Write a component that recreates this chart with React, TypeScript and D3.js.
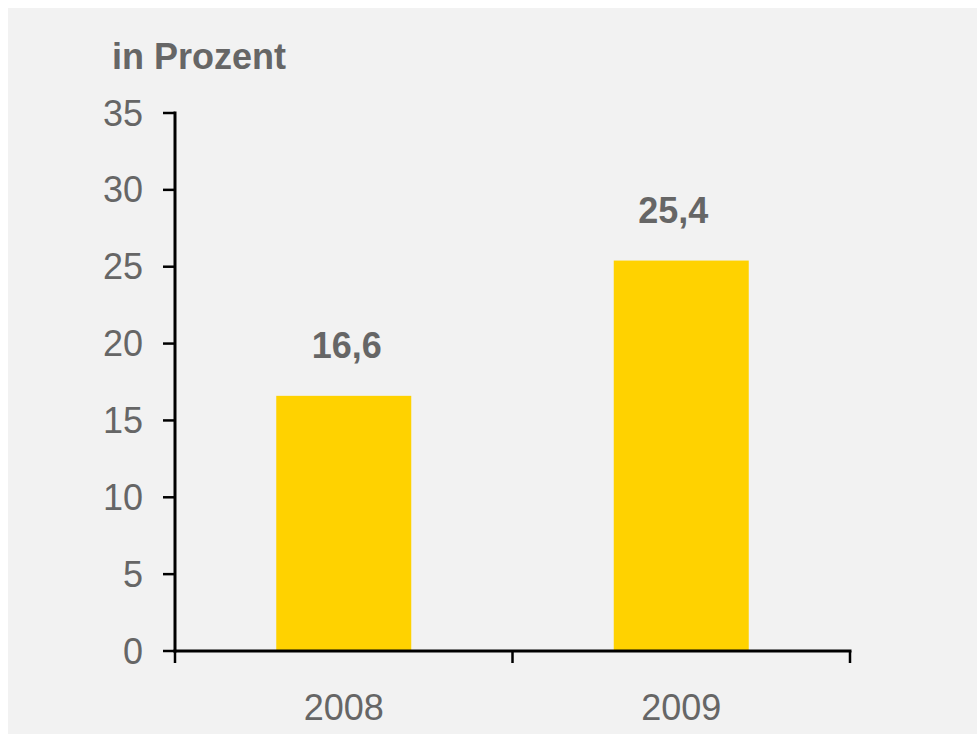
import React from 'react';
import * as d3 from 'd3';

// values
const years = ['2008', '2009'];
const shares = [16.6, 25.4];
const yTicks = [0, 5, 10, 15, 20, 25, 30, 35];
const unitLabel = 'in Prozent';

const W = 977;
const H = 734;
const left = 175;
const right = 850;
const top = 113;
const bottom = 651;

const textColor = '#666666';
const barColor = '#FFD200';
const font = 'Arial, "Liberation Sans", Helvetica, sans-serif';

// value labels in the original are not exactly centred on the bars
const labelNudge = [3, -8];

const fmt = (v: number) => v.toFixed(1).replace('.', ',');

export default function App() {
  const x = d3.scaleBand<string>()
    .domain(years)
    .range([left, right])
    .paddingInner(0.6)
    .paddingOuter(0.3);

  const y = d3.scaleLinear().domain([0, 35]).range([bottom, top]);

  // category boundaries for the x ticks
  const step = x.step();
  const xTickPos = d3.range(years.length + 1).map(i => left + i * step);

  return (
    <svg
      width={W}
      height={H}
      style={{ position: 'absolute', left: 0, top: 0, display: 'block' }}
      fontFamily={font}
    >
      <rect x={0} y={0} width={W} height={H} fill="#ffffff" />
      <rect x={8} y={8} width={W - 8} height={H - 8} fill="#f2f2f2" />

      <text x={112} y={69} fontSize={36} fontWeight="bold" fill={textColor}>
        {unitLabel}
      </text>

      {/* bars */}
      {years.map((yr, i) => (
        <g key={yr}>
          <rect
            x={x(yr)}
            y={y(shares[i])}
            width={x.bandwidth()}
            height={y(0) - y(shares[i])}
            fill={barColor}
          />
          <text
            x={(x(yr) as number) + x.bandwidth() / 2 + labelNudge[i]}
            y={y(shares[i]) - 38}
            textAnchor="middle"
            fontSize={36}
            fontWeight="bold"
            fill={textColor}
          >
            {fmt(shares[i])}
          </text>
          <text
            x={(x(yr) as number) + x.bandwidth() / 2}
            y={720}
            textAnchor="middle"
            fontSize={36}
            fill={textColor}
          >
            {yr}
          </text>
        </g>
      ))}

      {/* y axis */}
      <line x1={left} x2={left} y1={y(35) - 1.5} y2={y(0) + 1.5} stroke="#000" strokeWidth={3} />
      {yTicks.map(t => (
        <g key={t}>
          <line x1={left - 12} x2={left} y1={y(t)} y2={y(t)} stroke="#000" strokeWidth={2.5} />
          <text x={143} y={y(t) + 12.5} textAnchor="end" fontSize={36} fill={textColor}>
            {t}
          </text>
        </g>
      ))}

      {/* x axis */}
      <line x1={left - 1.5} x2={right + 1.5} y1={bottom} y2={bottom} stroke="#000" strokeWidth={3} />
      {xTickPos.map((p, i) => (
        <line key={i} x1={p} x2={p} y1={bottom} y2={bottom + 12} stroke="#000" strokeWidth={2.5} />
      ))}
    </svg>
  );
}
